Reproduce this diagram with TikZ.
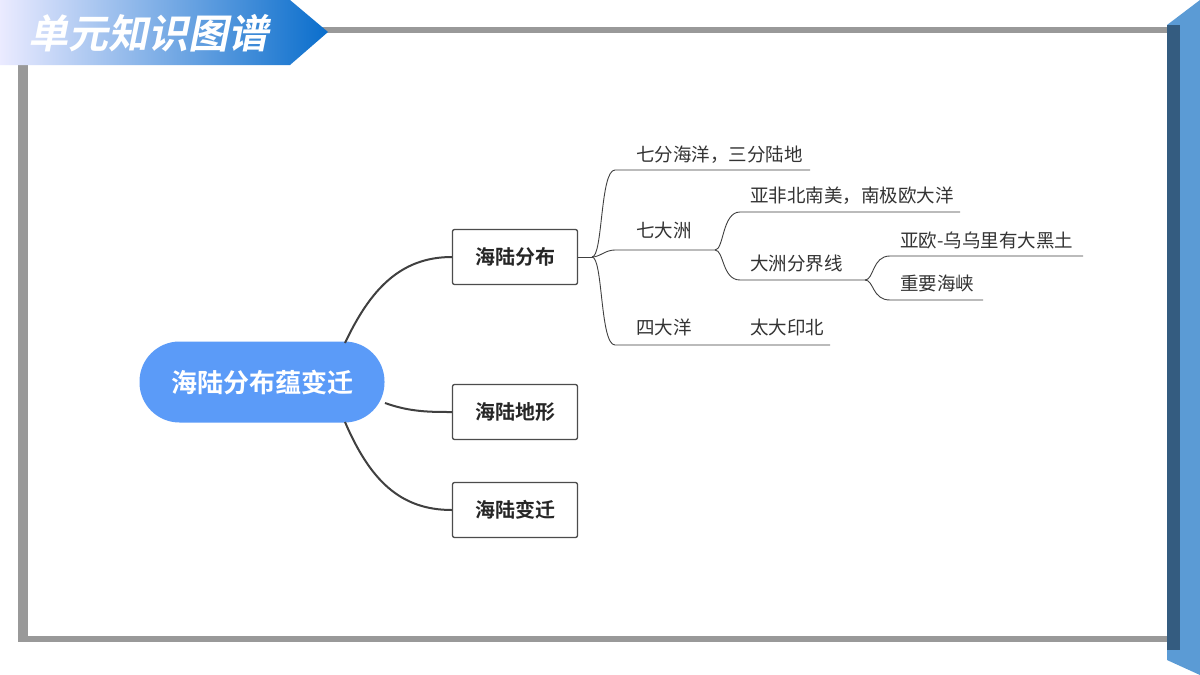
\documentclass[tikz,border=0pt]{standalone}
\usepackage{fontspec}
\setmainfont{Noto Sans CJK SC}
\newfontfamily\cjkb[FakeSlant=0.2]{Noto Sans CJK SC Bold}
\newfontfamily\cjkbold{Noto Sans CJK SC Bold}
\definecolor{bandblue}{RGB}{91,155,213}
\definecolor{banddark}{RGB}{52,92,128}
\definecolor{bannerblue}{RGB}{10,110,204}
\definecolor{centerblue}{RGB}{91,155,248}
\begin{document}
\begin{tikzpicture}[x=1pt,y=-1pt,
  line/.style={draw=black!75,line width=0.9pt},
  thick line/.style={draw=black!75,line width=2pt},
  branch/.style={draw=black!70,line width=1.3pt,rounded corners=2pt,fill=white,minimum width=125pt,minimum height=55pt,font=\cjkbold\fontsize{20}{20}\selectfont,text=black!85},
  leaf/.style={anchor=base west,font=\fontsize{18.5}{18.5}\selectfont,text=black!80,inner sep=0pt}]
\useasboundingbox (0,0) rectangle (1200,675);
\fill[white] (0,0) rectangle (1200,675);
% right band
\fill[bandblue] (1200,0) -- (1167,25) -- (1167,660) -- (1200,675) -- cycle;
\fill[banddark] (1167,25) rectangle (1180,650);
% panel
\fill[black!40] (18,27) rectangle (1167,642);
\fill[white] (28,33) rectangle (1167,636);
% banner
\shade[left color=blue!8!white,right color=bannerblue] (0,0) -- (290,0) -- (328,32) -- (290,65) -- (0,65) -- cycle;
\node[text=white,font=\cjkb\fontsize{40}{40}\selectfont,anchor=west,inner sep=0pt] (title) at (28,33) {单元知识图谱};
% center
\node[fill=centerblue,rounded corners=40pt,minimum width=245pt,minimum height=81pt,text=white,font=\cjkbold\fontsize{26}{26}\selectfont] (c) at (262,382) {海陆分布蕴变迁};
\node[branch] (b1) at (515,257) {海陆分布};
\node[branch] (b2) at (515,412) {海陆地形};
\node[branch] (b3) at (515,510) {海陆变迁};
\draw[thick line] (345,343) .. controls (370,290) and (400,257) .. (b1.west);
\draw[thick line] (385,403) .. controls (410,412) and (430,412) .. (b2.west);
\draw[thick line] (345,422) .. controls (370,480) and (400,510) .. (b3.west);
% leaves
\coordinate (h1) at (592,257);
\draw[line] (b1.east) -- (h1);
\node[leaf] (l1) at (636,161) {七分海洋，三分陆地};
\node[leaf] (l2) at (636,237) {七大洲};
\node[leaf] (l3) at (636,334) {四大洋};
\node[leaf] (l4) at (750,334) {太大印北};
\node[leaf] (l21) at (750,202) {亚非北南美，南极欧大洋};
\node[leaf] (l22) at (750,270) {大洲分界线};
\node[leaf] (l221) at (900,247) {亚欧-乌乌里有大黑土};
\node[leaf] (l222) at (900,290) {重要海峡};
\draw[line] (h1) .. controls (603,257) and (600,170) .. (615,170) -- (810,170);
\draw[line] (h1) .. controls (600,257) and (605,250) .. (615,250) -- (715,250);
\draw[line] (h1) .. controls (603,257) and (600,345) .. (615,345) -- (830,345);
\coordinate (h2) at (715,250);
\draw[line] (h2) .. controls (724,250) and (722,212) .. (740,212) -- (960,212);
\draw[line] (h2) .. controls (724,250) and (722,280) .. (740,280) -- (865,280);
\coordinate (h3) at (865,280);
\draw[line] (h3) .. controls (874,280) and (872,256) .. (890,256) -- (1083,256);
\draw[line] (h3) .. controls (874,280) and (872,300) .. (890,300) -- (983,300);
\end{tikzpicture}
\end{document}
